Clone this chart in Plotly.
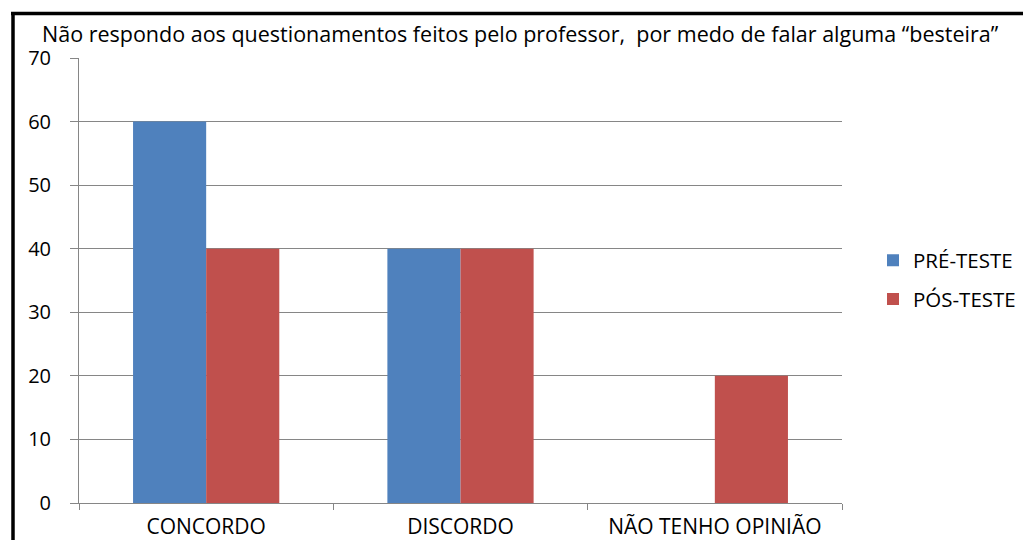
import plotly.graph_objects as go

categories = ["CONCORDO", "DISCORDO", "NÃO TENHO OPINIÃO"]
pre_teste = [60, 40, 0]
pos_teste = [40, 40, 20]
y_ticks = [0, 10, 20, 30, 40, 50, 60, 70]
title_text = "Não respondo aos questionamentos feitos pelo professor,  por medo de falar alguma “besteira”"

# page has an 8px body margin, so the figure is drawn 8px smaller
OFF = 8
W, H = 1031 - OFF, 540 - OFF
# plot area in screen pixels
PX0, PX1, PY0, PY1 = 79, 842, 58, 503
L, T = PX0 - OFF, PY0 - OFF
R, B = W - (PX1 - OFF), H - (PY1 - OFF)
pw, ph = W - L - R, H - T - B

def sx(px):
    return (px - PX0) / pw

def sy(py):
    return (PY1 - py) / ph

font = "Open Sans, Liberation Sans, sans-serif"

fig = go.Figure()
fig.add_bar(x=categories, y=pre_teste, name="PRÉ-TESTE", marker_color="#4F81BD",
            marker_line_width=0, legendgroup="a")
fig.add_bar(x=categories, y=pos_teste, name="PÓS-TESTE", marker_color="#C0504D",
            marker_line_width=0, legendgroup="b")

fig.update_layout(
    width=W, height=H,
    margin=dict(l=L, r=R, t=T, b=B, autoexpand=False),
    paper_bgcolor="white", plot_bgcolor="white",
    barmode="group", bargap=0.425, bargroupgap=0,
    font=dict(family=font, size=20, color="#000000"),
    showlegend=True,
    legend=dict(x=sx(873), y=sy(280), xanchor="left", yanchor="middle",
                font=dict(size=20.5), tracegroupgap=9, itemwidth=30,
                bgcolor="rgba(0,0,0,0)"),
    annotations=[dict(text=title_text, x=sx(520), y=sy(33), xref="paper", yref="paper",
                      showarrow=False, font=dict(size=21.5, family=font),
                      xanchor="center", yanchor="middle")],
    shapes=[
        dict(type="line", xref="paper", yref="paper", x0=sx(13), x1=sx(13), y0=sy(12), y1=sy(560),
             line=dict(color="black", width=3.5)),
        dict(type="line", xref="paper", yref="paper", x0=sx(11), x1=sx(1050), y0=sy(13.5), y1=sy(13.5),
             line=dict(color="black", width=3.5)),
    ],
)
fig.update_xaxes(type="category", showline=True, linecolor="#868686", linewidth=1,
                 ticks="outside", tickson="boundaries", ticklen=6, tickcolor="#868686",
                 showgrid=False, tickfont=dict(size=21), ticklabelstandoff=5)
fig.update_yaxes(range=[0, 70], tickvals=y_ticks, showline=True, linecolor="#868686", linewidth=1,
                 ticks="outside", ticklen=8, tickcolor="#868686", showgrid=True, gridcolor="#868686",
                 gridwidth=1, zeroline=False, tickfont=dict(size=20), ticklabelstandoff=15)

fig.write_html("out.html")
